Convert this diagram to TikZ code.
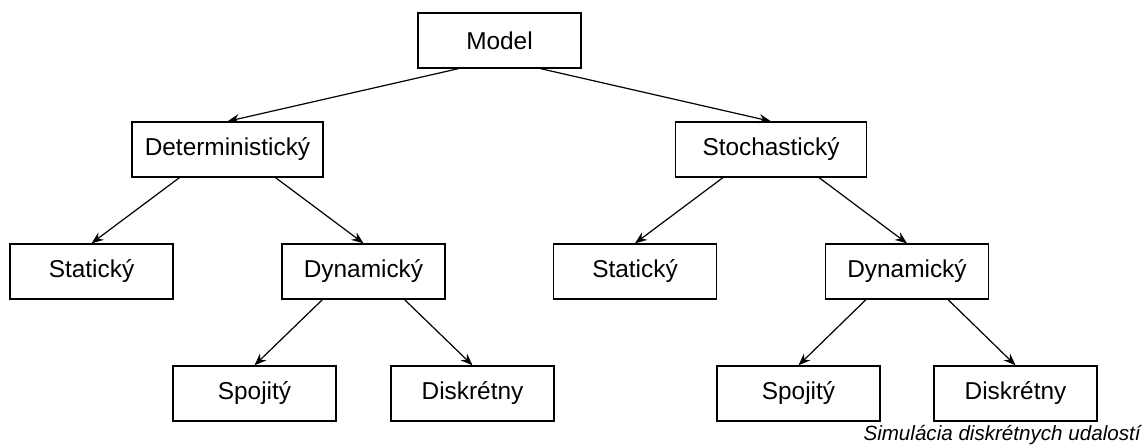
\documentclass[tikz,border=0pt]{standalone}
\usepackage{fontspec}
\setmainfont{Liberation Sans}
\usetikzlibrary{arrows.meta,calc}

\begin{document}
\begin{tikzpicture}[
    x=0.5pt, y=-0.5pt,
    font=\fontsize{12.2}{14}\selectfont,
    box/.style={
      rectangle, draw, line width=0.65pt,
      minimum width=81.5pt, minimum height=27.5pt,
      text centered, inner sep=0pt
    },
    wide/.style={box, minimum width=95.5pt},
    arr/.style={-{Stealth[length=6pt,width=4.6pt]}, line width=0.6pt},
  ]
    \useasboundingbox (0,0) rectangle (1142,448);

    \node[box]  (model)  at (499.5,40.5)  {Model};
    \node[wide] (det)    at (227.5,149.5) {Deterministický};
    \node[wide] (stoch)  at (771,149.5)   {Stochastický};
    \node[box]  (statL)  at (91.5,271.5)  {Statický};
    \node[box]  (dynL)   at (363.5,271.5) {Dynamický};
    \node[box]  (statR)  at (635,271.5)   {Statický};
    \node[box]  (dynR)   at (907,271.5)   {Dynamický};
    \node[box]  (spojL)  at (254.5,393.5) {Spojitý};
    \node[box]  (diskL)  at (472.5,393.5) {Diskrétny};
    \node[box]  (spojR)  at (798.5,393.5) {Spojitý};
    \node[box]  (diskR)  at (1015.5,393.5) {Diskrétny};

    \node[anchor=east, inner sep=0pt, font=\fontsize{10.3}{12}\selectfont\itshape]
      (caption) at (1141,435) {Simulácia diskrétnych udalostí};

    % parent -> children
    \foreach \p/\a/\b in {model/det/stoch, det/statL/dynL, stoch/statR/dynR,
                          dynL/spojL/diskL, dynR/spojR/diskR} {
      \draw[arr] ($(\p.south west)!0.25!(\p.south east)$) -- (\a.north);
      \draw[arr] ($(\p.south west)!0.75!(\p.south east)$) -- (\b.north);
    }
  \end{tikzpicture}
\end{document}
